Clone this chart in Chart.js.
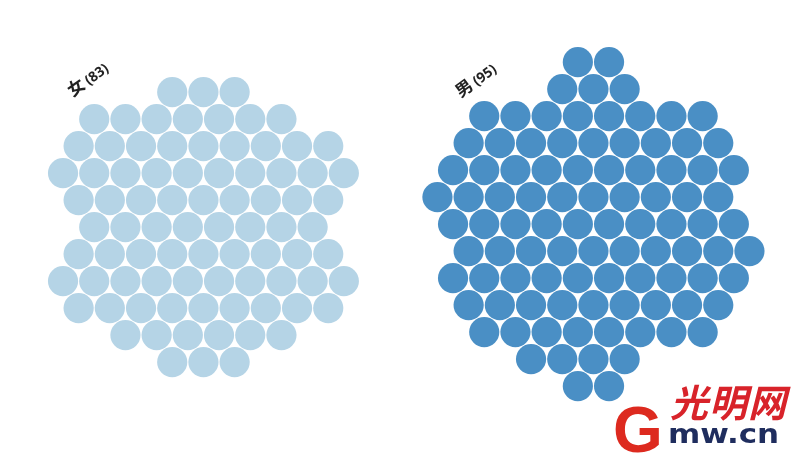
<!DOCTYPE html>
<html>
<head>
<meta charset="utf-8">
<script src="https://cdn.jsdelivr.net/npm/chart.js@4/dist/chart.umd.min.js"></script>
<style>
  html, body { margin: 0; padding: 0; background: #fff; }
  #wrap { position: relative; width: 800px; height: 466px; overflow: hidden; }
  #logoG { position: absolute; left: 613px; top: 398px; font: bold 64px "Liberation Sans", Arial, sans-serif; color: #dd2a1f; line-height: 1; }
  #logoCn { position: absolute; left: 670px; top: 382px; font: italic 700 38px "Noto Sans CJK SC", sans-serif; color: #d8232a; line-height: 1; letter-spacing: 1px; }
  #logoEn { position: absolute; left: 668px; top: 421px; font: 700 31px "DejaVu Sans", sans-serif; color: #1f2d5e; line-height: 1; transform: scaleY(0.85); transform-origin: left top; }
</style>
</head>
<body>
<div id="wrap">
  <canvas id="chart" width="800" height="466"></canvas>
  <div id="logoG">G</div>
  <div id="logoCn">光明网</div>
  <div id="logoEn">mw.cn</div>
</div>
<script>
// Groups shown (one circle per person)
const groupNames = ["女", "男"];
const groupTotals = [83, 95];

// Hex packing: first column (half-step units) and circle count per row
const femaleRowStart = [7, 2, 1, 0, 1, 2, 1, 0, 1, 4, 7];
const femaleRowCount = [3, 7, 9, 10, 9, 8, 9, 10, 9, 6, 3];
const maleRowStart = [9, 8, 3, 2, 1, 0, 1, 2, 1, 2, 3, 6, 9];
const maleRowCount = [2, 3, 8, 9, 10, 10, 10, 10, 10, 9, 8, 4, 2];

// Build point list for one cluster; adjacent circles are 2 half-steps apart
function buildCluster(starts, counts, dx, dy) {
  const pts = [];
  starts.forEach((s, row) => {
    for (let i = 0; i < counts[row]; i++) {
      pts.push({ x: dx + s + 2 * i, y: dy + row });
    }
  });
  return pts;
}

const femalePoints = buildCluster(femaleRowStart, femaleRowCount, 0, 0);
const malePoints = buildCluster(maleRowStart, maleRowCount, 24, -1.11);

// Rotated group labels, anchored in data coords
const groupLabels = {
  id: "groupLabels",
  afterDatasetsDraw(chart) {
    const { ctx, scales } = chart;
    const anchors = [{ x: 0.62, y: 0.19 }, { x: 25.5, y: 0.22 }];
    anchors.forEach((a, i) => {
      const px = scales.x.getPixelForValue(a.x);
      const py = scales.y.getPixelForValue(a.y);
      ctx.save();
      ctx.translate(px, py);
      ctx.rotate(-36 * Math.PI / 180);
      ctx.fillStyle = "#222";
      ctx.textBaseline = "alphabetic";
      ctx.font = "bold 17px 'Noto Sans CJK SC', sans-serif";
      ctx.fillText(groupNames[i], 0, 0);
      const w = ctx.measureText(groupNames[i]).width;
      ctx.font = "bold 14px 'Noto Sans', sans-serif";
      ctx.fillText("(" + groupTotals[i] + ")", w + 3, 0);
      ctx.restore();
    });
  },
};

new Chart(document.getElementById("chart"), {
  type: "scatter",
  data: {
    datasets: [
      {
        label: groupNames[0],
        data: femalePoints,
        backgroundColor: "#b5d4e6",
        borderWidth: 0,
        pointRadius: 15.1,
        pointHoverRadius: 15.1,
      },
      {
        label: groupNames[1],
        data: malePoints,
        backgroundColor: "#4a8fc5",
        borderWidth: 0,
        pointRadius: 15.1,
        pointHoverRadius: 15.1,
      },
    ],
  },
  options: {
    responsive: false,
    animation: false,
    layout: { padding: 0, autoPadding: false },
    plugins: {
      legend: { display: false },
      tooltip: { enabled: false },
    },
    scales: {
      x: { type: "linear", display: false, min: -4.04, max: 47.24 },
      y: { type: "linear", display: false, reverse: true, min: -3.41, max: 13.85 },
    },
  },
  plugins: [groupLabels],
});
</script>
</body>
</html>
